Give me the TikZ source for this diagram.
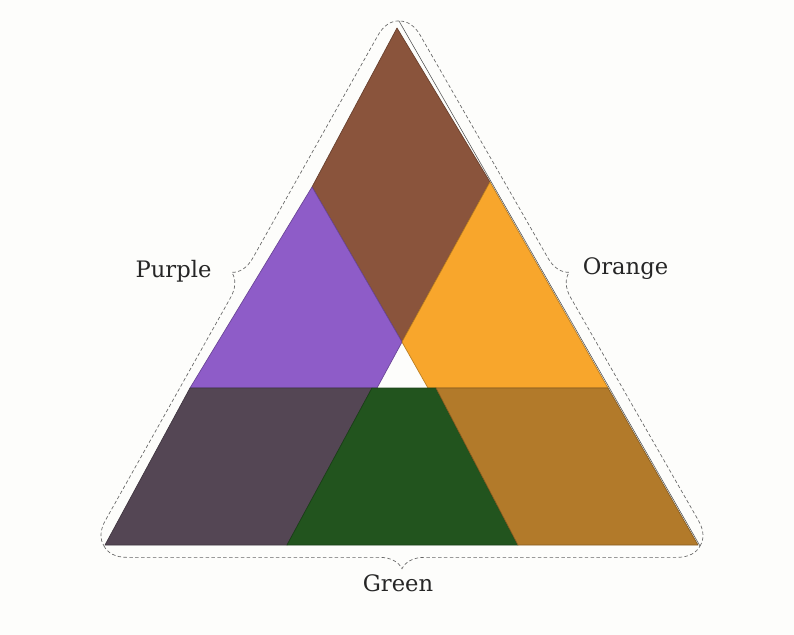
\documentclass[tikz,border=0pt]{standalone}
\usepackage{fontspec}
\setmainfont{DejaVu Serif}
\usetikzlibrary{decorations.pathreplacing}
\definecolor{paper}{RGB}{253,253,251}
\definecolor{russet}{RGB}{138,84,60}
\definecolor{violet}{RGB}{142,92,200}
\definecolor{amber}{RGB}{248,166,44}
\definecolor{olive}{RGB}{84,70,84}
\definecolor{leaf}{RGB}{34,84,30}
\definecolor{citrine}{RGB}{178,122,42}
\tikzset{
  piece/.style={fill=#1,draw=#1!75!black,line width=.5pt,line join=round},
  colname/.style={font=\fontsize{17}{20}\selectfont,text=black!85,anchor=base},
  cutline/.style={draw=black!60,dash pattern=on 2.6pt off 1.8pt,line width=.5pt,
    decorate,decoration={brace,mirror,amplitude=17pt}}
}
\begin{document}
\begin{tikzpicture}[x=.75pt,y=-.75pt]
    \fill[paper] (0,0) rectangle (794,635);
    % corners of the outer triangle
    \coordinate (oa) at (104,546);
    \coordinate (ob) at (700,546);
    \coordinate (oc) at (399,21);
    % corners of the pieces
    \coordinate (t) at (397,28);
    \coordinate (pl) at (312,187);
    \coordinate (or) at (490,182);
    \coordinate (w) at (402,342);
    \coordinate (wl) at (377,388);
    \coordinate (wr) at (428,388);
    \coordinate (ml) at (190,388);
    \coordinate (mr) at (608,388);
    \coordinate (gl) at (372,388);
    \coordinate (gr) at (436,388);
    \coordinate (bl) at (105,545);
    \coordinate (br) at (698,545);
    \coordinate (gbl) at (287,545);
    \coordinate (gbr) at (518,545);
    \draw[piece=russet] (t)--(pl)--(w)--(or)--cycle;
    \draw[piece=violet] (pl)--(ml)--(wl)--(w)--cycle;
    \draw[piece=amber] (or)--(w)--(wr)--(mr)--cycle;
    \draw[piece=olive] (ml)--(gl)--(gbl)--(bl)--cycle;
    \draw[piece=leaf] (gl)--(gr)--(gbr)--(gbl)--cycle;
    \draw[piece=citrine] (gr)--(mr)--(br)--(gbr)--cycle;
    \draw[black!70,line width=.4pt] (oc)--(ob);
    % dotted cutting line
    \draw[cutline] (oa)--(ob);
    \draw[cutline] (ob)--(oc);
    \draw[cutline] (oc)--(oa);
    \node[colname] (purple) at (173.5,277) {Purple};
    \node[colname] (orange) at (625.5,275) {Orange};
    \node[colname] (green) at (398,591) {Green};
\end{tikzpicture}
\end{document}
